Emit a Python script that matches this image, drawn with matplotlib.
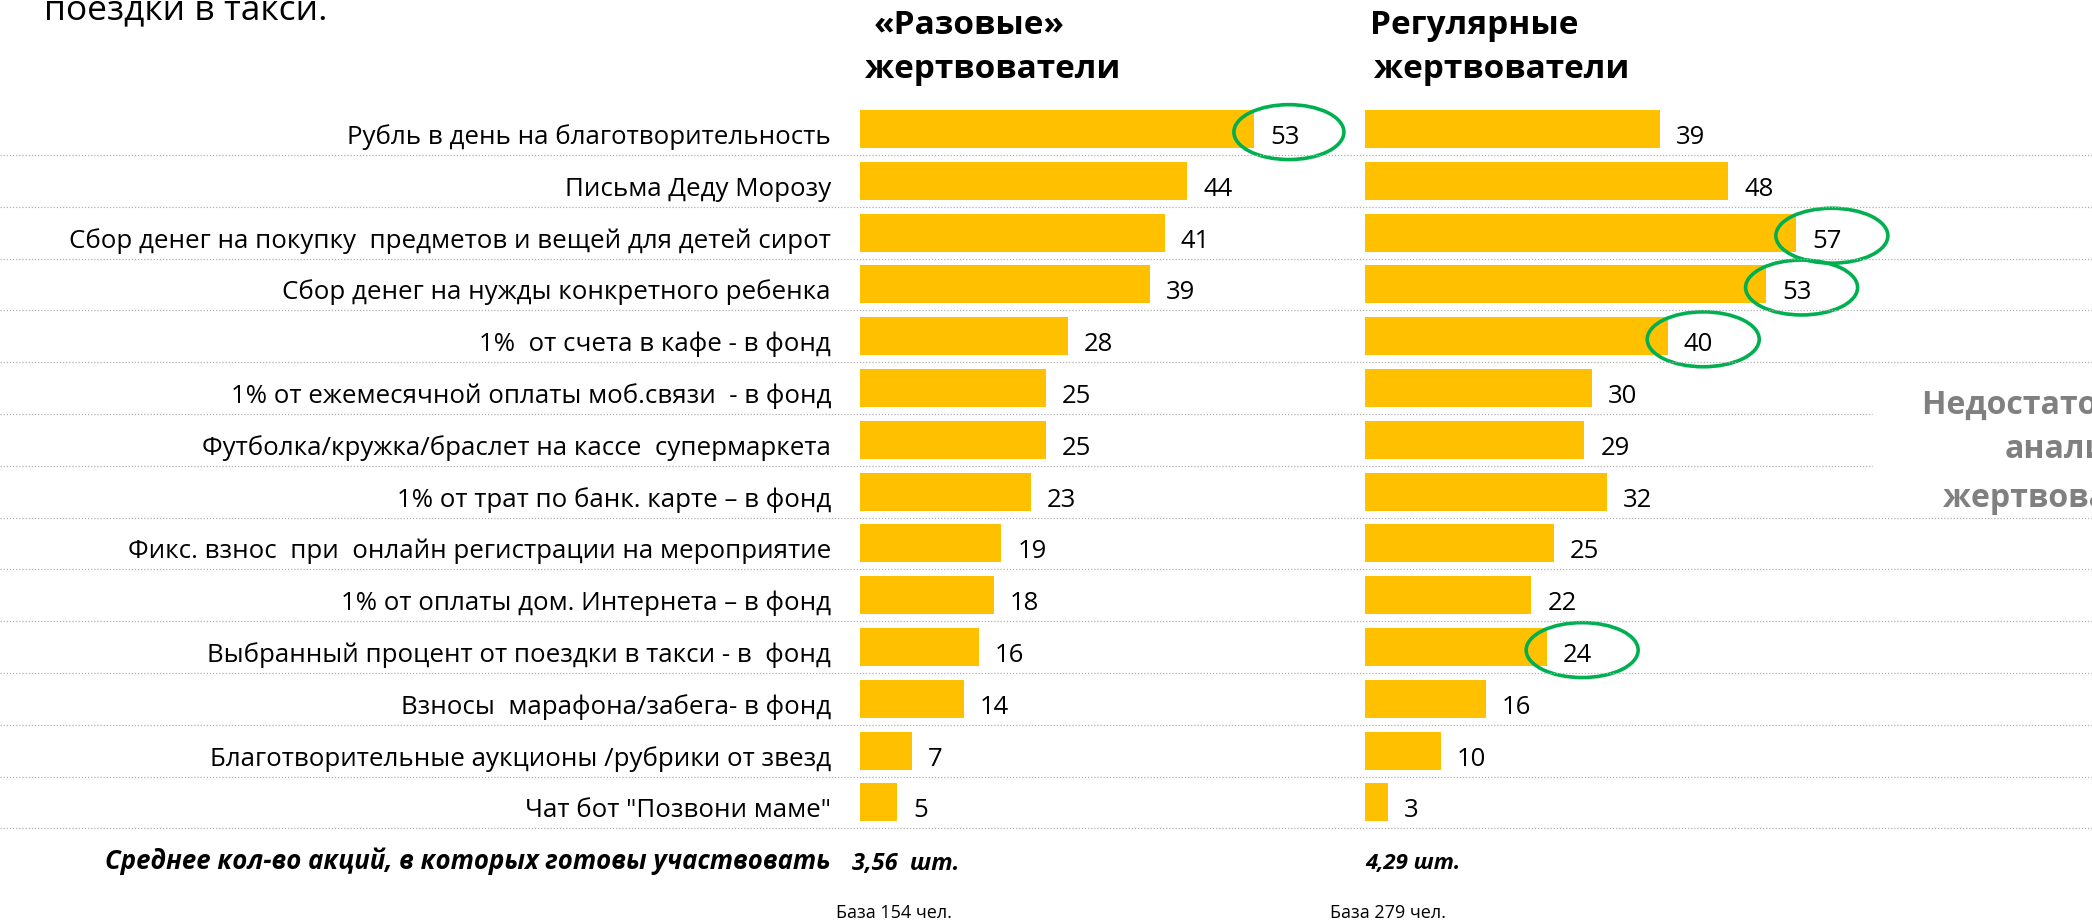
import matplotlib
matplotlib.use("Agg")
import matplotlib.pyplot as plt
from matplotlib.patches import Ellipse, Rectangle
from matplotlib.lines import Line2D
from matplotlib.transforms import blended_transform_factory

categories = [
    "Рубль в день на благотворительность",
    "Письма Деду Морозу",
    "Сбор денег на покупку  предметов и вещей для детей сирот",
    "Сбор денег на нужды конкретного ребенка",
    "1%  от счета в кафе - в фонд",
    "1% от ежемесячной оплаты моб.связи  - в фонд",
    "Футболка/кружка/браслет на кассе  супермаркета",
    "1% от трат по банк. карте – в фонд",
    "Фикс. взнос  при  онлайн регистрации на мероприятие",
    "1% от оплаты дом. Интернета – в фонд",
    "Выбранный процент от поездки в такси - в  фонд",
    "Взносы  марафона/забега- в фонд",
    "Благотворительные аукционы /рубрики от звезд",
    'Чат бот "Позвони маме"',
]
one_time = [53, 44, 41, 39, 28, 25, 25, 23, 19, 18, 16, 14, 7, 5]
regular = [39, 48, 57, 53, 40, 30, 29, 32, 25, 22, 24, 16, 10, 3]
highlight_one_time = [0]
highlight_regular = [2, 3, 4, 10]

avg_one_time = "3,56  шт."
avg_regular = "4,29 шт."
base_one_time = "База 154 чел."
base_regular = "База 279 чел."

plt.rcParams['font.family'] = ['Open Sans', 'DejaVu Sans']

W, H = 2092, 924
fig = plt.figure(figsize=(W / 100, H / 100), dpi=100)
fig.patch.set_facecolor('white')


def fx(px):
    return px / W


def fy(py):
    return 1 - py / H


YELLOW = '#FFC000'
GREEN = '#00B050'

n = len(categories)
pitch = 51.8
row0 = 129
top = row0 - pitch / 2
height = n * pitch

ax1 = fig.add_axes([fx(860), fy(top + height), 446 / W, height / H])
ax2 = fig.add_axes([fx(1365), fy(top + height), 454 / W, height / H])

for ax, vals, hl in [(ax1, one_time, highlight_one_time),
                     (ax2, regular, highlight_regular)]:
    ys = list(range(n))
    ax.barh(ys, vals, height=0.735, color=YELLOW, zorder=2)
    ax.set_xlim(0, 60)
    ax.set_ylim(n - 0.5, -0.5)
    ax.axis('off')
    for y, v in zip(ys, vals):
        ax.annotate(str(v), xy=(v, y), xytext=(16, -15), textcoords='offset pixels',
                    ha='left', va='baseline', fontsize=18.5, color='black')
    for i in hl:
        ax.add_patch(Ellipse((vals[i] + 4.7, i + 0.06), width=14.8, height=1.06,
                             fill=False, edgecolor=GREEN, linewidth=2.6,
                             clip_on=False, zorder=4))

# category labels
for y, lab in enumerate(categories):
    ax1.annotate(lab, xy=(0, y), xytext=(-29, -15), textcoords='offset pixels',
                 ha='right', va='baseline', fontsize=18.6, color='black')

# dotted separators across the whole width
trans = blended_transform_factory(fig.transFigure, ax1.transData)
for i in range(n):
    fig.add_artist(Line2D([0, 1], [i + 0.5, i + 0.5], transform=trans,
                          color='#b0b0b0', linewidth=0.9, linestyle=(0, (1, 1.5)),
                          zorder=1))

# headers
fig.text(fx(969), fy(25), "«Разовые»", ha='center', va='center',
         fontsize=24, fontweight='bold')
fig.text(fx(993), fy(69), "жертвователи", ha='center', va='center',
         fontsize=24, fontweight='bold')
fig.text(fx(1474), fy(25), "Регулярные", ha='center', va='center',
         fontsize=24, fontweight='bold')
fig.text(fx(1502), fy(69), "жертвователи", ha='center', va='center',
         fontsize=24, fontweight='bold')

# top-left fragment of slide text
fig.text(fx(44), fy(19), "поездки в такси.", ha='left', va='baseline',
         fontsize=25.5, color='black')

# right grey note
fig.add_artist(Rectangle((fx(1873), fy(510)), 1 - fx(1873), (510 - 370) / H,
                         transform=fig.transFigure, facecolor='white',
                         edgecolor='none', zorder=2))
for txt, yy in [("Недостаточно для", 405), ("анализа", 450), ("жертвователей", 498)]:
    fig.text(fx(2075), fy(yy), txt, ha='center', va='center', fontsize=23,
             fontweight='bold', color='#808080', zorder=3)

# bottom
fig.text(fx(831), fy(861), "Среднее кол-во акций, в которых готовы участвовать",
         ha='right', va='center', fontsize=18.5, fontweight='bold', style='italic')
fig.text(fx(852), fy(864), avg_one_time, ha='left', va='center', fontsize=17,
         fontweight='bold', style='italic')
fig.text(fx(1365), fy(864), avg_regular, ha='left', va='center', fontsize=16,
         fontweight='bold', style='italic')
fig.text(fx(836), fy(913), base_one_time, ha='left', va='center', fontsize=13)
fig.text(fx(1330), fy(913), base_regular, ha='left', va='center', fontsize=13)

fig.savefig('out.png', dpi=100, facecolor='white')
